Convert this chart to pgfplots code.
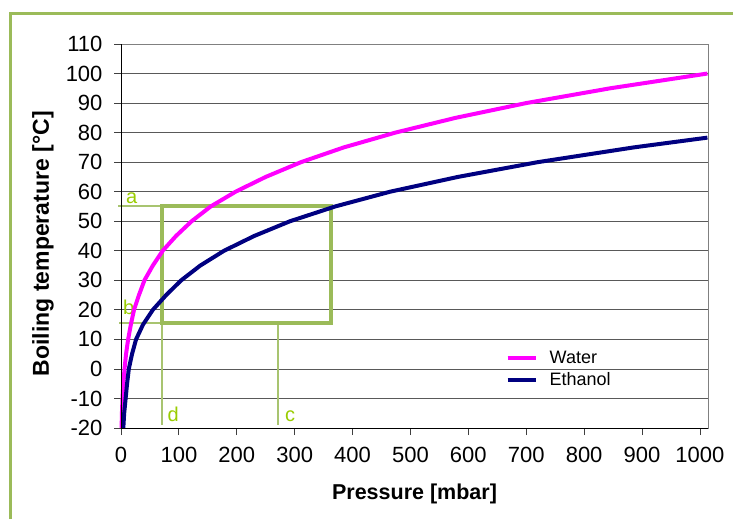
\documentclass[border=0pt]{standalone}
\usepackage{fontspec}
\setmainfont{Liberation Sans}
\usepackage{pgfplots}
\usepackage{pgfplotstable}
\pgfplotsset{compat=1.18}

\definecolor{frameGreen}{HTML}{9BBB59}
\definecolor{lineGreen}{HTML}{A8C470}
\definecolor{labelGreen}{HTML}{99CC00}
\definecolor{waterPink}{HTML}{FF00FF}
\definecolor{ethanolBlue}{HTML}{000080}

% pressure [mbar] vs boiling temperature [C]
\pgfplotstableread{
p T
1.0 -20
1.6 -15
2.6 -10
4.0 -5
6.1 0
8.7 5
12.3 10
17.0 15
22.5 20
31.0 25
40.5 30
55.0 35
72.0 40
95.0 45
122.0 50
155.0 55
198.0 60
250.0 65
311.0 70
385.0 75
474.0 80
578.0 85
700.0 90
845.0 95
1013.0 100
}\water

\pgfplotstableread{
p T
4.0 -20
5.5 -15
8.0 -10
10.5 -5
13.5 0
19.0 5
26.0 10
38.0 15
55.0 20
78.0 25
104.0 30
137.0 35
178.0 40
230.0 45
292.0 50
370.0 55
465.0 60
582.0 65
720.0 70
886.0 75
1013.0 78.3
}\ethanol

\begin{document}
\begin{tikzpicture}[x=1pt,y=1pt]
\useasboundingbox (0,0) rectangle (733,519);
\draw[frameGreen, line width=3pt] (10,0) -- (10,505) -- (740,505);
\begin{axis}[
  at={(121pt,91pt)}, anchor=south west,
  scale only axis, width=587pt, height=384pt,
  xmin=0, xmax=1014, ymin=-20, ymax=110,
  xtick={0,100,...,1000}, ytick={-20,-10,...,110},
  tick align=outside, major tick length=7pt,
  xtick pos=bottom, ytick pos=left,
  tick style={black!75, line width=0.8pt},
  axis line style={black!50, line width=0.9pt},
  ymajorgrids, grid style={black!65, line width=0.8pt},
  /pgf/number format/assume math mode=true,
  /pgf/number format/1000 sep={},
  yticklabel style={font=\fontsize{22}{24}\selectfont, xshift=-8pt},
  xticklabel style={font=\fontsize{22}{24}\selectfont, yshift=-9pt},
  xlabel={Pressure [mbar]},
  ylabel={Boiling temperature [°C]},
  xlabel style={font=\fontsize{21.5}{24}\selectfont\bfseries,
    at={(axis description cs:0.5,-0.172)}, anchor=center},
  ylabel style={font=\fontsize{23}{25}\selectfont\bfseries,
    at={(axis description cs:-0.133,0.48)}, anchor=center},
  clip=false,
  legend style={at={(rel axis cs:0.655,0.205)}, anchor=north west,
    draw=none, fill=none, font=\fontsize{18}{20}\selectfont,
    row sep=3pt, inner sep=0pt},
  legend cell align=left,
  legend image code/.code={\draw[#1] (0pt,0pt) -- (28pt,0pt); \path (38pt,0pt);},
]
\draw[lineGreen, line width=2pt] (axis cs:-5,55) -- (axis cs:70,55);
\draw[lineGreen, line width=2pt] (axis cs:-3,15.5) -- (axis cs:70,15.5);
\draw[lineGreen, line width=2pt] (axis cs:70,15.5) -- (axis cs:70,-19);
\draw[lineGreen, line width=2pt] (axis cs:271,15.5) -- (axis cs:271,-19);
\draw[frameGreen, line width=4pt] (axis cs:70,15.5) rectangle (axis cs:363,55);
\node[labelGreen, anchor=base west, inner sep=0pt, font=\fontsize{20}{22}\selectfont] at (axis cs:8.5,56) {a};
\node[labelGreen, anchor=base west, inner sep=0pt, font=\fontsize{20}{22}\selectfont] at (axis cs:3.5,18.5) {b};
\node[labelGreen, anchor=base west, inner sep=0pt, font=\fontsize{20}{22}\selectfont] at (axis cs:80,-17.9) {d};
\node[labelGreen, anchor=base west, inner sep=0pt, font=\fontsize{20}{22}\selectfont] at (axis cs:283,-17.9) {c};
\addplot[waterPink, line width=4pt] table[x=p, y=T] {\water};
\addlegendentry{Water}
\addplot[ethanolBlue, line width=4pt] table[x=p, y=T] {\ethanol};
\addlegendentry{Ethanol}
\draw[black, line width=0.9pt] (rel axis cs:0,0) -- (rel axis cs:0,1);
\draw[black, line width=0.9pt] (rel axis cs:0,0) -- (rel axis cs:1,0);
\end{axis}
\end{tikzpicture}
\end{document}
